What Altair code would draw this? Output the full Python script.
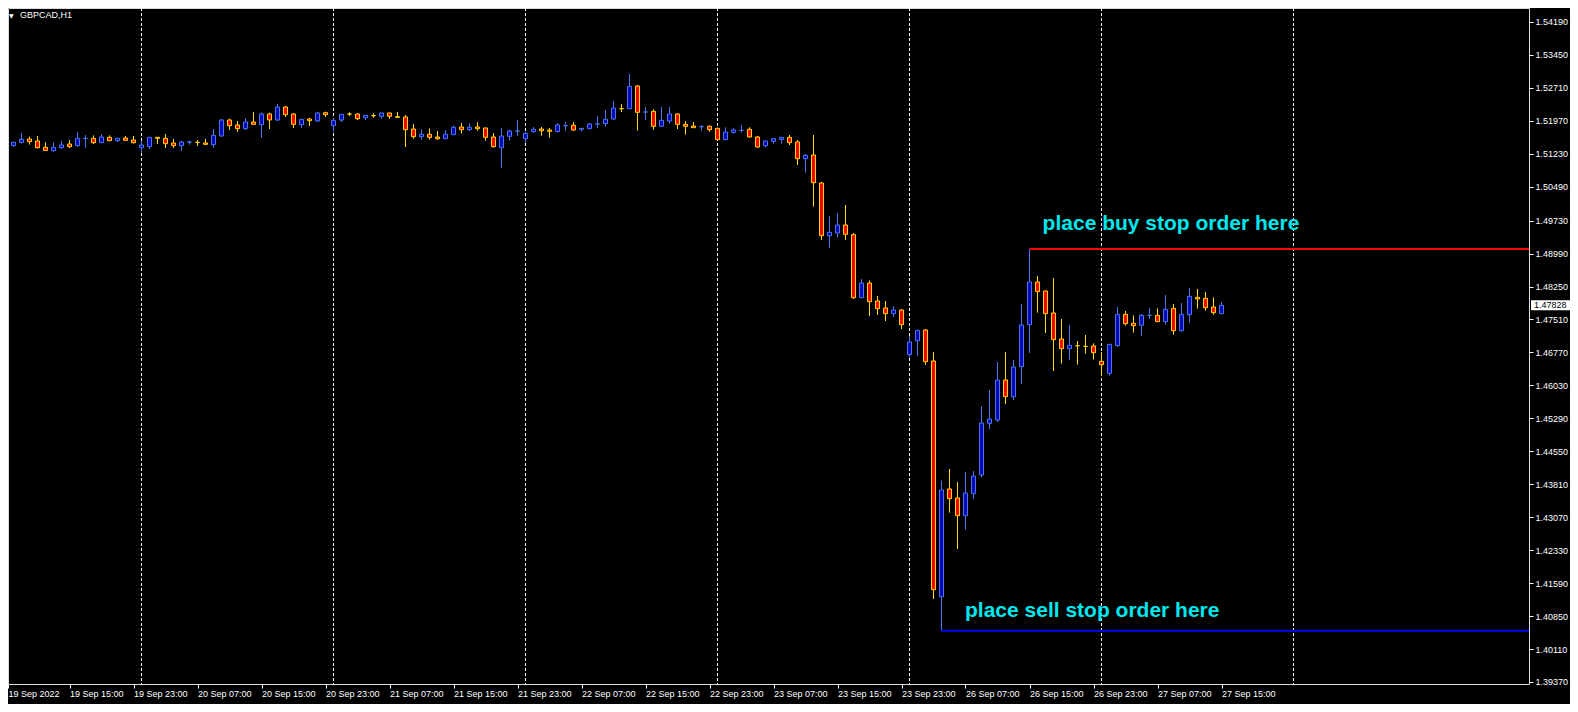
import json
import altair as alt
import pandas as pd

# ---------------- data (GBPCAD, H1) ----------------
open_ = [1.51473, 1.51413, 1.51488, 1.51563, 1.51518, 1.51376, 1.51301, 1.51368, 1.51450, 1.51413,
         1.51570, 1.51578, 1.51480, 1.51600, 1.51525, 1.51585, 1.51540, 1.51368, 1.51391, 1.51600,
         1.51578, 1.51473, 1.51413, 1.51495, 1.51488, 1.51473, 1.51436, 1.51630, 1.51989, 1.51877,
         1.51795, 1.51944, 1.51885, 1.52124, 1.51989, 1.52281, 1.52124, 1.51885, 1.52012, 1.51967,
         1.52154, 1.51862, 1.51989, 1.52124, 1.52124, 1.52042, 1.52087, 1.52072, 1.52147, 1.52064,
         1.52057, 1.51787, 1.51615, 1.51668, 1.51608, 1.51570, 1.51660, 1.51832, 1.51772, 1.51832,
         1.51810, 1.51608, 1.51368, 1.51623, 1.51742, 1.51570, 1.51727, 1.51787, 1.51765, 1.51727,
         1.51862, 1.51870, 1.51780, 1.51795, 1.51900, 1.51907, 1.52012, 1.52244, 1.52244, 1.52753,
         1.52169, 1.52184, 1.51847, 1.51967, 1.52124, 1.51892, 1.51855, 1.51840, 1.51847, 1.51802,
         1.51548, 1.51712, 1.51757, 1.51780, 1.51608, 1.51413, 1.51510, 1.51555, 1.51600, 1.51495,
         1.51121, 1.51203, 1.50575, 1.49392, 1.49452, 1.49632, 1.49415, 1.48000, 1.48329, 1.47925,
         1.47768, 1.47641, 1.47723, 1.46720, 1.47034, 1.47274, 1.46578, 1.41286, 1.43704, 1.43502,
         1.43105, 1.43599, 1.44018, 1.45178, 1.45253, 1.46151, 1.45777, 1.46450, 1.47394, 1.48352,
         1.48150, 1.47656, 1.47072, 1.46855, 1.46922, 1.46907, 1.46915, 1.46570, 1.46301, 1.46922,
         1.47626, 1.47424, 1.47379, 1.47603, 1.47603, 1.47461, 1.47760, 1.47259, 1.47618, 1.48007,
         1.47985, 1.47790, 1.47641]
high = [1.51488, 1.51496, 1.51697, 1.51615, 1.51630, 1.51488, 1.51488, 1.51518, 1.51540, 1.51720,
        1.51653, 1.51645, 1.51675, 1.51645, 1.51585, 1.51630, 1.51630, 1.51518, 1.51608, 1.51608,
        1.51675, 1.51563, 1.51518, 1.51525, 1.51540, 1.51563, 1.51787, 1.52012, 1.52019, 1.51967,
        1.52034, 1.52169, 1.52162, 1.52154, 1.52349, 1.52304, 1.52147, 1.52012, 1.52034, 1.52177,
        1.52177, 1.52027, 1.52124, 1.52162, 1.52139, 1.52102, 1.52139, 1.52154, 1.52154, 1.52169,
        1.52102, 1.51900, 1.51780, 1.51802, 1.51742, 1.51765, 1.51870, 1.51922, 1.51915, 1.51944,
        1.51817, 1.51697, 1.51810, 1.51772, 1.51989, 1.51720, 1.51832, 1.51832, 1.51810, 1.51922,
        1.51944, 1.51944, 1.51810, 1.51922, 1.52079, 1.52214, 1.52416, 1.52349, 1.53022, 1.52775,
        1.52281, 1.52229, 1.52281, 1.52281, 1.52139, 1.51967, 1.51944, 1.51877, 1.51870, 1.51817,
        1.51825, 1.51817, 1.51877, 1.51825, 1.51630, 1.51525, 1.51585, 1.51608, 1.51653, 1.51540,
        1.51226, 1.51653, 1.50597, 1.49826, 1.49901, 1.50081, 1.49452, 1.48419, 1.48389, 1.48037,
        1.47925, 1.47813, 1.47745, 1.47139, 1.47274, 1.47296, 1.46780, 1.43891, 1.44153, 1.43861,
        1.44085, 1.44108, 1.45567, 1.45927, 1.46555, 1.46780, 1.46600, 1.47858, 1.49093, 1.48487,
        1.48157, 1.48442, 1.47521, 1.47386, 1.47027, 1.47162, 1.46975, 1.46780, 1.46960, 1.47790,
        1.47701, 1.47603, 1.47633, 1.47768, 1.47760, 1.48060, 1.47858, 1.47880, 1.48217, 1.48195,
        1.48127, 1.48007, 1.47903]
low = [1.51398, 1.51391, 1.51465, 1.51436, 1.51353, 1.51301, 1.51278, 1.51346, 1.51361, 1.51391,
       1.51368, 1.51450, 1.51473, 1.51518, 1.51495, 1.51525, 1.51458, 1.51256, 1.51338, 1.51450,
       1.51361, 1.51361, 1.51293, 1.51436, 1.51406, 1.51436, 1.51368, 1.51615, 1.51765, 1.51720,
       1.51765, 1.51885, 1.51585, 1.51787, 1.51967, 1.52057, 1.51810, 1.51810, 1.51855, 1.51944,
       1.52057, 1.51727, 1.51944, 1.52079, 1.51989, 1.51989, 1.52042, 1.52012, 1.52012, 1.52042,
       1.51383, 1.51570, 1.51548, 1.51548, 1.51540, 1.51563, 1.51653, 1.51683, 1.51742, 1.51750,
       1.51525, 1.51368, 1.50919, 1.51525, 1.51630, 1.51480, 1.51705, 1.51638, 1.51593, 1.51712,
       1.51750, 1.51742, 1.51727, 1.51787, 1.51817, 1.51840, 1.51989, 1.52169, 1.52236, 1.51750,
       1.51989, 1.51772, 1.51840, 1.51907, 1.51787, 1.51660, 1.51810, 1.51750, 1.51727, 1.51533,
       1.51540, 1.51683, 1.51705, 1.51600, 1.51368, 1.51368, 1.51458, 1.51458, 1.51428, 1.50979,
       1.50807, 1.50043, 1.49295, 1.49123, 1.49347, 1.49295, 1.47970, 1.47992, 1.47588, 1.47611,
       1.47476, 1.47566, 1.47296, 1.46660, 1.46690, 1.46488, 1.41234, 1.40522, 1.43172, 1.42356,
       1.42790, 1.43479, 1.43958, 1.45051, 1.45208, 1.45612, 1.45702, 1.46061, 1.46757, 1.47663,
       1.47207, 1.46353, 1.46518, 1.46608, 1.46495, 1.46742, 1.46608, 1.46248, 1.46248, 1.46900,
       1.47371, 1.47214, 1.47147, 1.47521, 1.47454, 1.47394, 1.47169, 1.47237, 1.47439, 1.47753,
       1.47708, 1.47618, 1.47633]
close = [1.51413, 1.51488, 1.51555, 1.51503, 1.51368, 1.51308, 1.51376, 1.51428, 1.51391, 1.51578,
         1.51578, 1.51480, 1.51608, 1.51525, 1.51578, 1.51533, 1.51480, 1.51428, 1.51600, 1.51578,
         1.51458, 1.51413, 1.51495, 1.51495, 1.51487, 1.51443, 1.51645, 1.51989, 1.51862, 1.51795,
         1.51944, 1.51892, 1.52124, 1.51989, 1.52281, 1.52109, 1.51892, 1.52004, 1.51974, 1.52147,
         1.52109, 1.51982, 1.52117, 1.52123, 1.52019, 1.52094, 1.52086, 1.52147, 1.52072, 1.52049,
         1.51772, 1.51615, 1.51668, 1.51600, 1.51570, 1.51668, 1.51825, 1.51772, 1.51825, 1.51795,
         1.51600, 1.51391, 1.51630, 1.51742, 1.51742, 1.51690, 1.51780, 1.51750, 1.51735, 1.51877,
         1.51862, 1.51765, 1.51802, 1.51900, 1.51900, 1.52004, 1.52259, 1.52243, 1.52745, 1.52162,
         1.52169, 1.51847, 1.51982, 1.52124, 1.51892, 1.51847, 1.51817, 1.51840, 1.51772, 1.51548,
         1.51720, 1.51765, 1.51757, 1.51608, 1.51383, 1.51518, 1.51570, 1.51600, 1.51480, 1.51121,
         1.51196, 1.50582, 1.49392, 1.49467, 1.49632, 1.49422, 1.48000, 1.48329, 1.47910, 1.47753,
         1.47641, 1.47723, 1.47394, 1.47004, 1.47266, 1.46563, 1.41443, 1.43681, 1.43487, 1.43105,
         1.43614, 1.43995, 1.45186, 1.45275, 1.46151, 1.45777, 1.46443, 1.47386, 1.48352, 1.48135,
         1.47641, 1.47057, 1.46855, 1.46930, 1.46921, 1.46906, 1.46765, 1.46495, 1.46952, 1.47626,
         1.47416, 1.47371, 1.47603, 1.47603, 1.47461, 1.47738, 1.47259, 1.47626, 1.48030, 1.47970,
         1.47775, 1.47663, 1.47828]

# time-axis labels, one every 8 hourly bars starting at bar 0
time_labels = ["19 Sep 2022", "19 Sep 15:00", "19 Sep 23:00", "20 Sep 07:00", "20 Sep 15:00",
               "20 Sep 23:00", "21 Sep 07:00", "21 Sep 15:00", "21 Sep 23:00", "22 Sep 07:00",
               "22 Sep 15:00", "22 Sep 23:00", "23 Sep 07:00", "23 Sep 15:00", "23 Sep 23:00",
               "26 Sep 07:00", "26 Sep 15:00", "26 Sep 23:00", "27 Sep 07:00", "27 Sep 15:00"]
time_label_bars = [0, 8, 16, 24, 32, 40, 48, 56, 64, 72, 80, 88, 96, 104, 112, 120, 128, 136, 144, 152]
# day separators (bar index of 00:00 of each day)
day_start_bars = [17, 41, 65, 89, 113, 137, 161]
# price axis ticks
price_ticks = [1.39370, 1.40110, 1.40850, 1.41590, 1.42330, 1.43070, 1.43810, 1.44550, 1.45290,
               1.46030, 1.46770, 1.47510, 1.48250, 1.48990, 1.49730, 1.50490, 1.51230, 1.51970,
               1.52710, 1.53450, 1.54190]
# pending-order levels
level_kind = ["buy", "sell"]
level_start_bar = [128, 117]
level_price = [1.49093, 1.40522]
# annotations
note_text = ["place buy stop order here", "place sell stop order here"]
note_bar = [129.64, 119.94]
note_price = [1.49526, 1.40823]
current_price = 1.47828
symbol = "GBPCAD,H1"

# ---------------- layout / style ----------------
W, H = 1521, 676
X_LO = 0.3125
X_HI = X_LO + W / 8.0
Y_HI = 1.5450436
Y_LO = 1.3932494
FONT = "Liberation Sans"
BULL_LINE = "#4a74f0"
BULL_FILL = "#0a0ab4"
BEAR_LINE = "#ffd700"
BEAR_FILL = "#ff0000"
CYAN = "#00e8ee"

df = pd.DataFrame({"i": list(range(len(open_))), "open": open_, "high": high,
                   "low": low, "close": close})

xs = alt.Scale(domain=[X_LO, X_HI], nice=False, zero=False, padding=0)
ys = alt.Scale(domain=[Y_LO, Y_HI], nice=False, zero=False, padding=0)

# the first label's bar sits just left of the frame: keep its tick on the frame edge
x_tick_values = [max(v, X_LO) for v in time_label_bars]

x_axis = alt.Axis(values=x_tick_values, tickCount=200,
                  labelExpr=json.dumps(time_labels) + "[round(datum.value / 8)]",
                  title=None, grid=False, domain=False, ticks=True, tickColor="white",
                  tickSize=4, labelAlign="left", labelBaseline="top", labelPadding=1,
                  labelColor="white", labelFont=FONT, labelFontSize=9,
                  labelOverlap=False, labelFlush=False)
y_axis = alt.Axis(orient="right", values=price_ticks, tickCount=200, format=".5f", title=None,
                  grid=False, domain=False, tickColor="white", tickSize=4,
                  labelPadding=2, labelColor="white", labelFont=FONT, labelFontSize=9,
                  labelOverlap=False, labelFlush=False, labelBaseline="middle")

up = "datum.close >= datum.open"
base = alt.Chart(df)

grid = alt.Chart(pd.DataFrame({"i": day_start_bars})).mark_rule(
    color="white", strokeDash=[3, 2], strokeWidth=1, clip=True
).encode(x=alt.X("i:Q", scale=xs, axis=x_axis))

wicks = base.mark_rule(strokeWidth=1, clip=True).encode(
    x=alt.X("i:Q", scale=xs, axis=x_axis),
    y=alt.Y("low:Q", scale=ys, axis=y_axis),
    y2="high:Q",
    color=alt.condition(up, alt.value(BULL_LINE), alt.value(BEAR_LINE)),
)

bodies = base.mark_bar(size=4, strokeWidth=1, clip=True).encode(
    x=alt.X("i:Q", scale=xs),
    y=alt.Y("open:Q", scale=ys),
    y2="close:Q",
    fill=alt.condition(up, alt.value(BULL_FILL), alt.value(BEAR_FILL)),
    stroke=alt.condition(up, alt.value(BULL_LINE), alt.value(BEAR_LINE)),
)

levels = alt.Chart(pd.DataFrame({"kind": level_kind, "start": level_start_bar,
                                 "level": level_price})).mark_rule(strokeWidth=2).encode(
    x=alt.X("start:Q", scale=xs),
    x2=alt.value(W),
    y=alt.Y("level:Q", scale=ys),
    color=alt.Color("kind:N", scale=alt.Scale(domain=["buy", "sell"],
                                              range=["#ff0000", "#0000ff"]), legend=None),
)

notes = alt.Chart(pd.DataFrame({"text": note_text, "i": note_bar, "price": note_price})).mark_text(
    align="left", baseline="alphabetic", font=FONT, fontSize=21, fontWeight="bold", color=CYAN
).encode(x=alt.X("i:Q", scale=xs), y=alt.Y("price:Q", scale=ys), text="text:N")

cur = pd.DataFrame({"price": [current_price]})
cur_box = alt.Chart(cur).mark_tick(orient="horizontal", size=41, thickness=10, color="white",
                                   opacity=1, clip=False).encode(
    y=alt.Y("price:Q", scale=ys), x=alt.value(W + 22.5))
cur_txt = alt.Chart(cur).mark_text(align="left", baseline="middle", font=FONT, fontSize=9,
                                   color="black", clip=False).encode(
    y=alt.Y("price:Q", scale=ys), x=alt.value(W + 5),
    text=alt.Text("price:Q", format=".5f"))

title_df = pd.DataFrame({"t": [symbol]})
tri = alt.Chart(title_df).mark_text(text="▼", align="left", baseline="middle", fontSize=6,
                                    color="white", font="DejaVu Sans").encode(
    x=alt.value(1), y=alt.value(7.5))
ttl = alt.Chart(title_df).mark_text(align="left", baseline="middle", fontSize=9,
                                    color="white", font=FONT).encode(
    x=alt.value(12), y=alt.value(7), text="t:N")

chart = alt.layer(grid, wicks, bodies, levels, notes, cur_box, cur_txt, tri, ttl).properties(
    width=W, height=H,
    padding={"left": 0, "top": 0, "right": 41, "bottom": 20},
    autosize=alt.AutoSizeParams(type="none"),
).configure_view(stroke="white", strokeWidth=1, fill="black").configure(background="black")

chart.save("out.html", embed_options={"renderer": "svg", "actions": False})
